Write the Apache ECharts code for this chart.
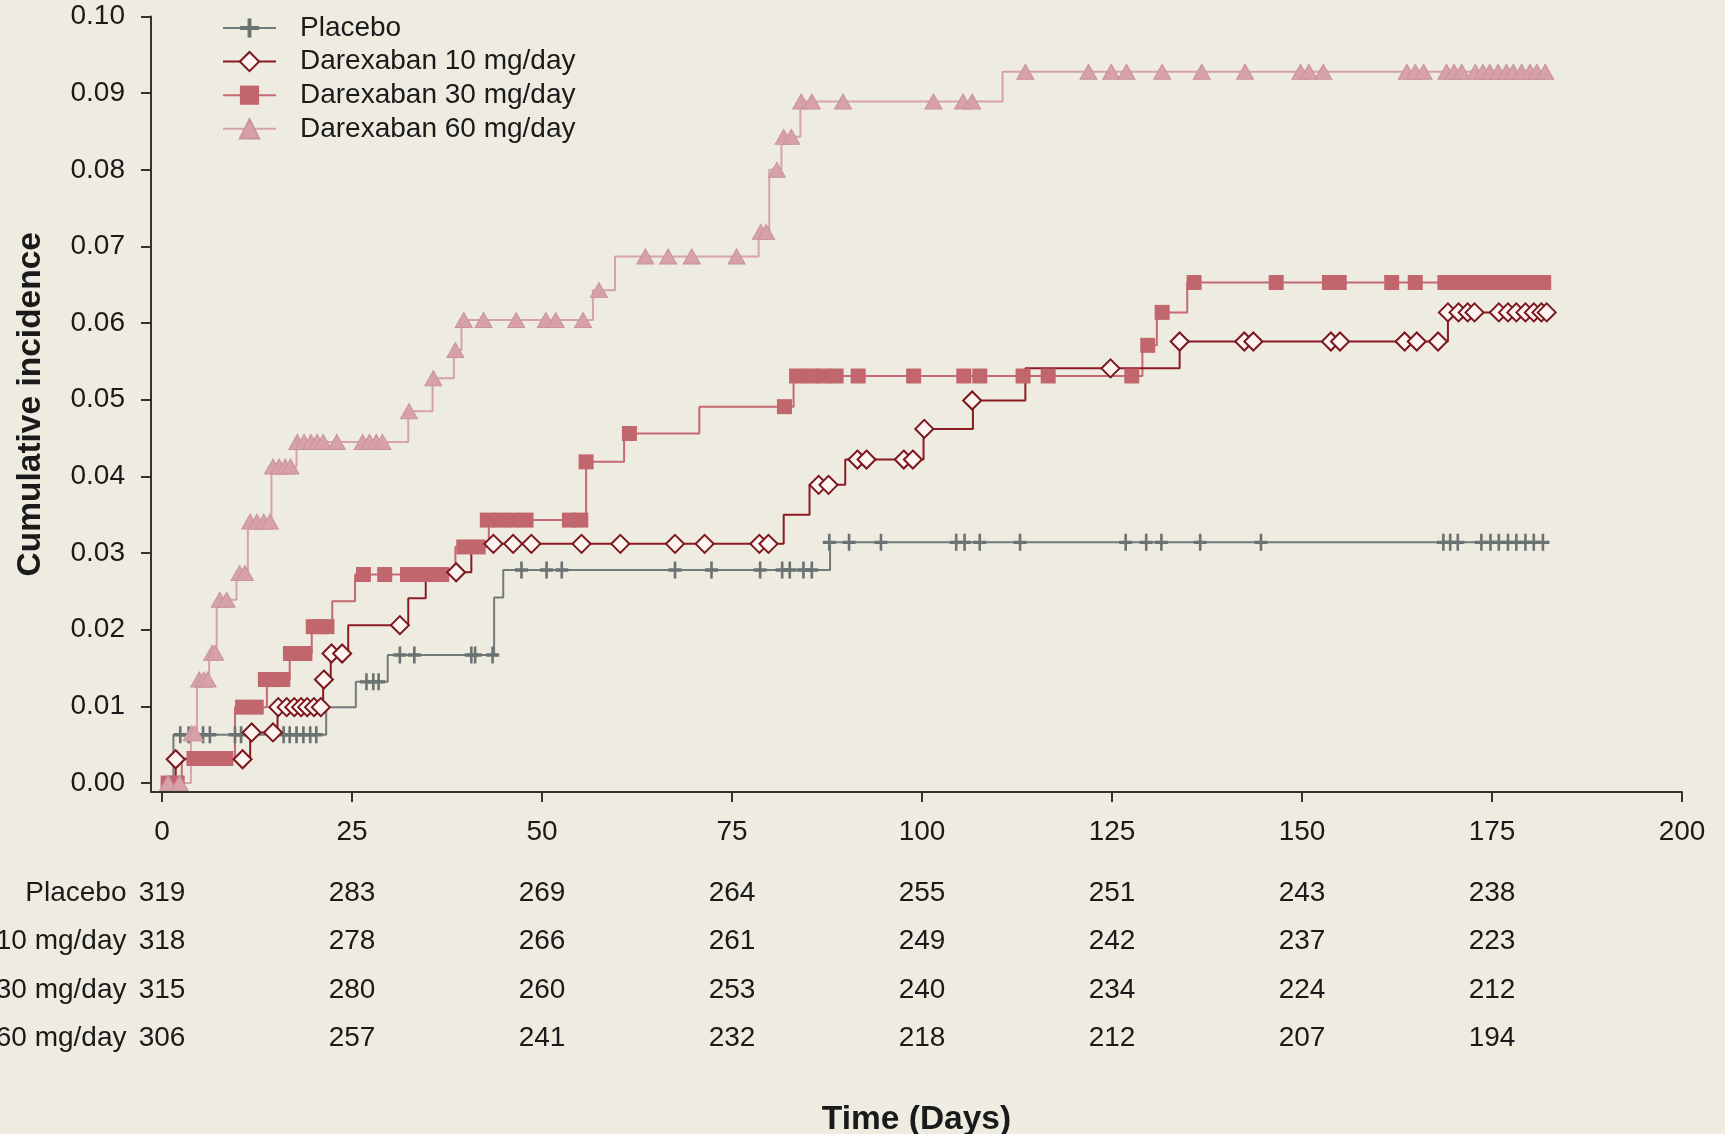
<!DOCTYPE html>
<html>
<head>
<meta charset="utf-8">
<script src="https://cdn.jsdelivr.net/npm/echarts@6/dist/echarts.min.js"></script>
<style>
html,body{margin:0;padding:0;background:#eeebe1;}
#chart{width:1725px;height:1134px;}
</style>
</head>
<body>
<div id="chart"></div>
<script>
// ---------- DATA ----------
const xTicks = [0, 25, 50, 75, 100, 125, 150, 175, 200];
const yTicks = [0, 0.01, 0.02, 0.03, 0.04, 0.05, 0.06, 0.07, 0.08, 0.09, 0.10];
const groupNames = ['Placebo', 'Darexaban 10 mg/day', 'Darexaban 30 mg/day', 'Darexaban 60 mg/day'];

// step curves: [day, cumulative incidence from that day on]
const placeboSteps = [[0,0],[1.5,0.0063],[21.6,0.0099],[25.5,0.0132],[29.7,0.0167],[43.7,0.0242],[44.9,0.0278],[87.9,0.0314],[182.4,0.0314]];
const dose10Steps = [[0,0],[1.8,0.0031],[11.6,0.0066],[15.2,0.0099],[21.2,0.0135],[22.2,0.0169],[24.5,0.0206],[32.4,0.0241],[34.7,0.0275],[40.7,0.0312],[81.8,0.0350],[85.2,0.0389],[89.9,0.0422],[100.2,0.0462],[106.7,0.0499],[113.6,0.0541],[133.9,0.0576],[169.2,0.0614],[182.4,0.0614]];
const dose30Steps = [[0,0],[2.6,0.0032],[9.6,0.0099],[13.8,0.0135],[16.8,0.0169],[19.7,0.0204],[22.4,0.0237],[25.4,0.0272],[38.6,0.0308],[43.0,0.0343],[55.8,0.0419],[60.8,0.0456],[70.7,0.0491],[83.1,0.0531],[129.0,0.0571],[130.9,0.0614],[134.9,0.0653],[182.6,0.0653]];
const dose60Steps = [[0,0],[3.8,0.0065],[4.6,0.0135],[6.2,0.0170],[7.2,0.0239],[9.8,0.0274],[11.3,0.0341],[14.4,0.0413],[17.7,0.0445],[32.4,0.0485],[35.6,0.0528],[38.4,0.0565],[39.4,0.0604],[56.7,0.0643],[59.6,0.0687],[78.5,0.0719],[79.9,0.0800],[81.5,0.0843],[84.0,0.0889],[110.6,0.0928],[182.5,0.0928]];

// censoring marks: [day, level]
const placeboCensor = [[2.4,0.0063],[3.5,0.0063],[5.4,0.0063],[6.3,0.0063],[9.6,0.0063],[10.4,0.0063],[16.0,0.0063],[16.8,0.0063],[17.7,0.0063],[18.6,0.0063],[19.5,0.0063],[20.3,0.0063],
 [26.9,0.0132],[27.8,0.0132],[28.5,0.0132],[31.3,0.0167],[33.2,0.0167],[40.7,0.0167],[41.2,0.0167],[43.5,0.0167],
 [47.3,0.0278],[50.6,0.0278],[52.6,0.0278],[67.5,0.0278],[72.3,0.0278],[78.7,0.0278],[81.6,0.0278],[82.6,0.0278],[84.4,0.0278],[85.5,0.0278],
 [87.8,0.0314],[90.4,0.0314],[94.6,0.0314],[104.5,0.0314],[105.6,0.0314],[107.6,0.0314],[112.9,0.0314],[126.8,0.0314],[129.5,0.0314],[131.5,0.0314],[136.6,0.0314],[144.6,0.0314],
 [168.6,0.0314],[169.5,0.0314],[170.5,0.0314],[173.6,0.0314],[174.8,0.0314],[175.9,0.0314],[177.1,0.0314],[178.2,0.0314],[179.4,0.0314],[180.5,0.0314],[181.7,0.0314]];
const dose10Censor = [[1.8,0.0031],[10.6,0.0031],[11.8,0.0066],[14.6,0.0066],
 [15.3,0.0099],[16.4,0.0099],[17.4,0.0099],[18.3,0.0099],[19.1,0.0099],[20.0,0.0099],[20.9,0.0099],
 [21.3,0.0135],[22.3,0.0169],[23.7,0.0169],[31.3,0.0206],[38.7,0.0275],
 [43.6,0.0312],[46.2,0.0312],[48.6,0.0312],[55.2,0.0312],[60.3,0.0312],[67.5,0.0312],[71.4,0.0312],[78.6,0.0312],[79.8,0.0312],
 [86.4,0.0389],[87.7,0.0389],[91.5,0.0422],[92.7,0.0422],[97.6,0.0422],[98.8,0.0422],[100.3,0.0462],[106.6,0.0499],[124.8,0.0541],
 [133.9,0.0576],[142.4,0.0576],[143.6,0.0576],[153.8,0.0576],[155.0,0.0576],[163.5,0.0576],[165.1,0.0576],[167.9,0.0576],
 [169.2,0.0614],[170.6,0.0614],[171.8,0.0614],[172.7,0.0614],[175.9,0.0614],[177.1,0.0614],[178.2,0.0614],[179.4,0.0614],[180.5,0.0614],[181.5,0.0614],[182.2,0.0614]];
const dose30Censor = [[0.8,0],[2.0,0],[4.2,0.0032],[5.6,0.0032],[7.0,0.0032],[8.4,0.0032],
 [10.6,0.0099],[12.4,0.0099],[13.6,0.0135],[14.8,0.0135],[15.9,0.0135],[16.9,0.0169],[17.9,0.0169],[18.8,0.0169],[19.9,0.0204],[20.8,0.0204],[21.7,0.0204],
 [26.5,0.0272],[29.3,0.0272],[32.3,0.0272],[33.8,0.0272],[35.3,0.0272],[36.8,0.0272],[39.7,0.0308],[41.6,0.0308],
 [42.8,0.0343],[44.5,0.0343],[46.2,0.0343],[47.9,0.0343],[53.6,0.0343],[55.1,0.0343],[55.8,0.0419],[61.5,0.0456],[81.9,0.0491],
 [83.5,0.0531],[85.3,0.0531],[87.0,0.0531],[88.7,0.0531],[91.6,0.0531],[98.9,0.0531],[105.5,0.0531],[107.6,0.0531],[113.3,0.0531],[116.6,0.0531],[127.6,0.0531],
 [129.7,0.0571],[131.6,0.0614],[135.8,0.0653],[146.6,0.0653],[153.6,0.0653],[154.9,0.0653],[161.8,0.0653],[164.9,0.0653],
 [168.8,0.0653],[170.0,0.0653],[171.2,0.0653],[172.4,0.0653],[173.6,0.0653],[174.8,0.0653],[176.0,0.0653],[177.2,0.0653],[178.4,0.0653],[179.6,0.0653],[180.7,0.0653],[181.8,0.0653]];
const dose60Censor = [[0.8,0],[2.3,0],[3.9,0.0065],[4.3,0.0065],[4.9,0.0135],[5.5,0.0135],[6.0,0.0135],[6.6,0.0170],[7.0,0.0170],[7.6,0.0239],[8.5,0.0239],
 [10.2,0.0274],[10.9,0.0274],[11.6,0.0341],[12.5,0.0341],[13.4,0.0341],[14.2,0.0341],[14.6,0.0413],[15.4,0.0413],[16.2,0.0413],[16.9,0.0413],
 [17.8,0.0445],[18.7,0.0445],[19.6,0.0445],[20.4,0.0445],[21.2,0.0445],[23.0,0.0445],[26.4,0.0445],[27.3,0.0445],[28.2,0.0445],[29.0,0.0445],
 [32.5,0.0485],[35.7,0.0528],[38.6,0.0565],[39.7,0.0604],[42.3,0.0604],[46.6,0.0604],[50.5,0.0604],[51.8,0.0604],[55.4,0.0604],[57.5,0.0643],
 [63.6,0.0687],[66.6,0.0687],[69.7,0.0687],[75.6,0.0687],[78.8,0.0719],[79.5,0.0719],[80.9,0.0800],[81.8,0.0843],[82.8,0.0843],
 [84.1,0.0889],[85.5,0.0889],[89.6,0.0889],[101.5,0.0889],[105.4,0.0889],[106.6,0.0889],
 [113.6,0.0928],[121.9,0.0928],[124.9,0.0928],[126.9,0.0928],[131.6,0.0928],[136.8,0.0928],[142.5,0.0928],[149.8,0.0928],[150.9,0.0928],[152.8,0.0928],
 [163.8,0.0928],[164.9,0.0928],[166.0,0.0928],[169.0,0.0928],[170.0,0.0928],[171.0,0.0928],[172.8,0.0928],[173.8,0.0928],[174.7,0.0928],[175.8,0.0928],
 [176.9,0.0928],[177.8,0.0928],[178.9,0.0928],[180.0,0.0928],[180.9,0.0928],[182.0,0.0928]];

// numbers at risk
const riskDays = [0, 25, 50, 75, 100, 125, 150, 175];
const riskPlacebo = [319, 283, 269, 264, 255, 251, 243, 238];
const risk10 = [318, 278, 266, 261, 249, 242, 237, 223];
const risk30 = [315, 280, 260, 253, 240, 234, 224, 212];
const risk60 = [306, 257, 241, 232, 218, 212, 207, 194];

// ---------- CHART ----------
const FONT = "'Liberation Sans', Arial, sans-serif";
const TXT = '#1a1a1a';
const AX = '#333333';
const plusPath = 'path://M4,0H6V4H10V6H6V10H4V6H0V4H4Z';

const styles = {
  placebo: { line: '#737a7a', symbol: plusPath, size: [13, 17], item: { color: '#6a7272', opacity: 1 } },
  d10: { line: '#8a1b21', symbol: 'diamond', size: 18, item: { color: '#fdf4f2', borderColor: '#7a161c', borderWidth: 2, opacity: 1 } },
  d30: { line: '#c46a72', symbol: 'rect', size: 15, item: { color: '#c2666e', opacity: 1 } },
  d60: { line: '#d6a3a9', symbol: 'triangle', size: [17, 15], item: { color: '#d8a0a8', borderColor: '#c8949b', borderWidth: 1, opacity: 1 } }
};

function lineSeries(name, data, st, z) {
  return {
    type: 'line', name: name, data: data, step: 'end',
    xAxisIndex: 0, yAxisIndex: 0,
    symbol: st.symbol, showSymbol: false, symbolSize: st.size,
    itemStyle: st.item,
    lineStyle: { color: st.line, width: 2 },
    z: z, silent: true, animation: false
  };
}
function censorSeries(name, data, st, z) {
  return {
    type: 'scatter', name: name, data: data,
    xAxisIndex: 0, yAxisIndex: 0,
    symbol: st.symbol, symbolSize: st.size,
    itemStyle: st.item, z: z, silent: true, animation: false
  };
}

const riskSets = [riskPlacebo, risk10, risk30, risk60];
const riskData = [];
riskSets.forEach((arr, gi) => {
  arr.forEach((n, i) => riskData.push([riskDays[i], groupNames[gi], n]));
});

const chart = echarts.init(document.getElementById('chart'), null, { renderer: 'canvas' });
const option = {
  backgroundColor: '#eeebe1',
  animation: false,
  textStyle: { fontFamily: FONT },
  grid: [
    { left: 151, right: 43, top: 16.5, height: 775.5, containLabel: false, outerBoundsMode: 'none' },
    { left: 151, right: 43, top: 869, height: 193.6, containLabel: false, outerBoundsMode: 'none' }
  ],
  legend: {
    data: groupNames,
    orient: 'vertical', left: 217, top: 9,
    itemWidth: 53, itemHeight: 24, itemGap: 5.6,
    textStyle: { fontSize: 28, color: TXT, fontFamily: FONT, lineHeight: 24, padding: [0, 0, 0, 19] },
    selectedMode: false
  },
  xAxis: [
    {
      gridIndex: 0, type: 'value', min: -1.45, max: 200,
      name: 'Time (Days)', nameLocation: 'middle', nameGap: 311,
      nameTextStyle: { fontSize: 33.5, fontWeight: 'bold', color: TXT, fontFamily: FONT },
      axisLine: { show: true, onZero: false, lineStyle: { color: AX, width: 2 } },
      axisTick: { show: true, customValues: xTicks, length: 10, lineStyle: { color: AX, width: 2 } },
      axisLabel: { show: true, customValues: xTicks, fontSize: 28, color: TXT, margin: 26, fontFamily: FONT },
      splitLine: { show: false }
    },
    {
      gridIndex: 1, type: 'value', min: -1.45, max: 200, show: false
    }
  ],
  yAxis: [
    {
      gridIndex: 0, type: 'value', min: -0.00117, max: 0.10,
      name: 'Cumulative incidence', nameLocation: 'middle', nameGap: 103, nameRotate: 90,
      nameTextStyle: { fontSize: 33.5, fontWeight: 'bold', color: TXT, fontFamily: FONT },
      axisLine: { show: true, onZero: false, lineStyle: { color: AX, width: 2 } },
      axisTick: { show: true, customValues: yTicks, length: 10, lineStyle: { color: AX, width: 2 } },
      axisLabel: { show: true, customValues: yTicks, fontSize: 28, color: TXT, margin: 26, fontFamily: FONT,
        formatter: v => Number(v).toFixed(2) },
      splitLine: { show: false }
    },
    {
      gridIndex: 1, type: 'category', data: groupNames, inverse: true,
      axisLine: { show: false }, axisTick: { show: false }, splitLine: { show: false },
      axisLabel: { fontSize: 28, color: TXT, margin: 24.5, fontFamily: FONT }
    }
  ],
  series: [
    lineSeries('Placebo', placeboSteps, styles.placebo, 2),
    lineSeries('Darexaban 30 mg/day', dose30Steps, styles.d30, 3),
    lineSeries('Darexaban 60 mg/day', dose60Steps, styles.d60, 4),
    lineSeries('Darexaban 10 mg/day', dose10Steps, styles.d10, 5),
    censorSeries('Placebo censored', placeboCensor, styles.placebo, 6),
    censorSeries('30 mg censored', dose30Censor, styles.d30, 7),
    censorSeries('60 mg censored', dose60Censor, styles.d60, 8),
    censorSeries('10 mg censored', dose10Censor, styles.d10, 9),
    {
      type: 'scatter', name: 'At risk', xAxisIndex: 1, yAxisIndex: 1,
      data: riskData, symbol: 'circle', symbolSize: 1,
      itemStyle: { color: 'rgba(0,0,0,0)', opacity: 1 }, silent: true,
      label: { show: true, position: 'inside', fontSize: 28, color: TXT, fontFamily: FONT,
        textBorderWidth: 0, formatter: p => String(p.value[2]) }
    }
  ]
};
chart.setOption(option);
</script>
</body>
</html>
